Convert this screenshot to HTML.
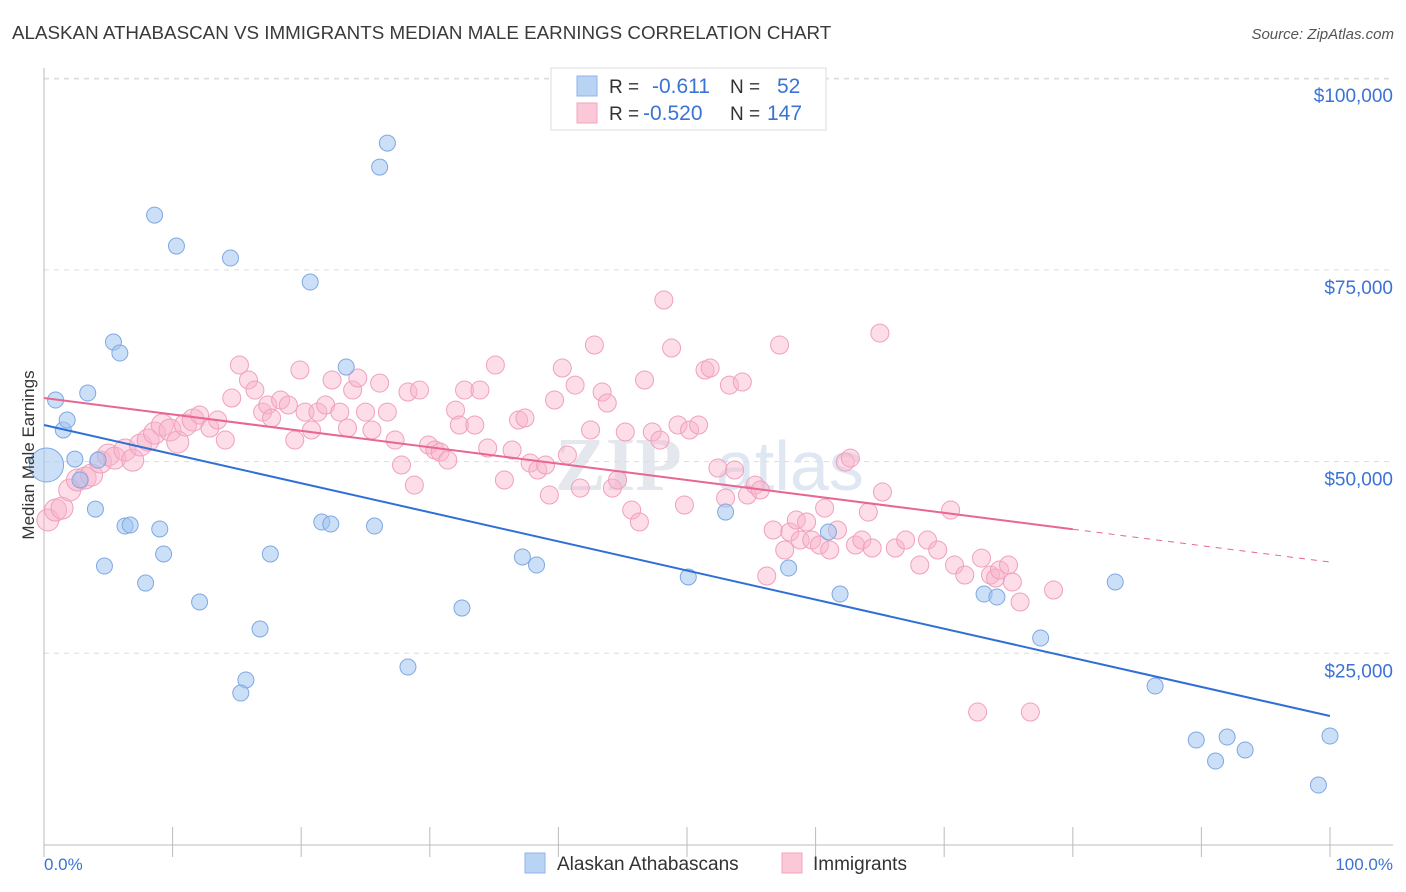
<!DOCTYPE html>
<html><head><meta charset="utf-8">
<style>
body{margin:0;background:#fff;font-family:"Liberation Sans",sans-serif;}
svg{display:block}
</style></head>
<body>
<svg id="chart" width="1406" height="892" viewBox="0 0 1406 892">
<text x="12" y="39" font-size="18.8" fill="#3a3a3a">ALASKAN ATHABASCAN VS IMMIGRANTS MEDIAN MALE EARNINGS CORRELATION CHART</text>
<text x="1394" y="39" font-size="15" fill="#555" font-style="italic" text-anchor="end">Source: ZipAtlas.com</text>
<text x="555" y="490" font-size="76" fill="#e4e8ee" font-family="Liberation Serif,serif" font-weight="bold">ZIP</text>
<text x="716" y="490" font-size="70" fill="#dfe7f3">atlas</text>
<g id="grid"></g>
<g id="axes"></g>
<g id="pink"></g>
<g id="blue"></g>
<g id="trend"></g>
<text transform="translate(34,455) rotate(-90)" font-size="17" fill="#333" text-anchor="middle">Median Male Earnings</text>
<text x="44" y="870" font-size="17" fill="#3b73d4">0.0%</text>
<text x="1393" y="870" font-size="17" fill="#3b73d4" text-anchor="end">100.0%</text>
<g>
<rect x="551" y="68" width="275" height="62" fill="#fff" stroke="#ddd"/>
<rect x="577" y="76" width="20" height="20" fill="#b9d3f5" stroke="#8fb3e8"/>
<rect x="577" y="103" width="20" height="20" fill="#fbc8d8" stroke="#f0a6bf"/>
<text x="609" y="93" font-size="19" fill="#333">R = </text><text x="652" y="93" font-size="21" fill="#3b73d4">-0.611</text>
<text x="730" y="93" font-size="19" fill="#333">N = </text><text x="777" y="93" font-size="21" fill="#3b73d4">52</text>
<text x="609" y="120" font-size="19" fill="#333">R = </text><text x="643" y="120" font-size="21" fill="#3b73d4">-0.520</text>
<text x="730" y="120" font-size="19" fill="#333">N = </text><text x="767" y="120" font-size="21" fill="#3b73d4">147</text>
</g>
<g>
<rect x="525" y="853" width="20" height="20" fill="#b9d3f5" stroke="#8fb3e8"/>
<text x="557" y="870" font-size="19" fill="#333">Alaskan Athabascans</text>
<rect x="782" y="853" width="20" height="20" fill="#fbc8d8" stroke="#f0a6bf"/>
<text x="813" y="870" font-size="19" fill="#333">Immigrants</text>
</g>
</svg>
<script>
const yTicks=[25000,50000,75000,100000];
const yTickLabels=["$25,000","$50,000","$75,000","$100,000"];
const xTicks=[0,10,20,30,40,50,60,70,80,90,100];
const bluePct=[0.2,0.9,1.5,1.8,2.4,2.8,3.4,4.0,4.2,4.7,5.4,5.9,6.3,6.7,7.9,8.6,9.0,9.3,10.3,12.1,14.5,15.7,15.3,16.8,17.6,20.7,21.6,22.3,23.5,25.7,26.1,26.7,28.3,32.5,37.2,38.3,50.1,53.0,57.9,61.0,61.9,73.1,74.1,77.5,83.3,86.4,89.6,91.1,92.0,93.4,99.1,100];
const blueVal=[49550,58030,54120,55420,50330,47600,58940,43810,50200,36380,65590,64160,41600,41730,34160,82150,41210,37950,78110,31690,76550,21520,19820,28170,37950,73420,42120,41860,62330,41600,88410,91540,23210,30900,37560,36510,34950,43420,36120,40820,32730,32730,32340,26990,34300,20730,13690,10950,14080,12390,7820,14210];
const pinkPct=[0.3,0.9,1.4,2.0,2.6,3.2,3.7,4.4,5.0,5.5,6.3,6.9,7.5,8.1,8.6,9.2,9.8,10.4,11.0,11.6,12.1,12.9,13.5,14.1,14.6,15.2,15.9,16.4,17.0,17.4,17.7,18.4,19.0,19.5,19.9,20.3,20.8,21.3,21.9,22.4,23.0,23.6,24.0,24.4,25.0,25.5,26.1,26.7,27.3,27.8,28.3,28.8,29.2,29.9,30.4,30.8,31.4,32.0,32.3,32.7,33.5,33.9,34.5,35.1,35.8,36.4,36.9,37.4,37.8,38.4,39.0,39.3,39.7,40.3,40.7,41.3,41.7,42.5,42.8,43.4,43.8,44.2,44.6,45.2,45.7,46.3,46.7,47.3,47.9,48.2,48.8,49.3,49.8,50.2,50.9,51.4,51.8,52.4,53.0,53.3,53.7,54.3,54.7,55.3,55.7,56.2,56.7,57.2,57.6,58.0,58.5,58.8,59.3,59.7,60.3,60.7,61.1,61.7,62.3,62.7,63.1,63.6,64.1,64.4,65.0,65.2,66.2,67.0,68.1,68.7,69.5,70.5,70.8,71.6,72.6,72.9,73.6,74.0,74.3,75.0,75.3,75.9,76.7,78.5];
const pinkVal=[42380,43680,43940,46290,47600,47860,48250,49940,50860,50460,51510,50200,52160,52810,53720,54770,54120,52550,54770,55420,56070,54380,55420,52810,58290,62590,60640,59330,56460,57380,55680,58030,57380,52810,61940,56460,54120,56460,57380,60640,56460,54380,59330,60900,56460,54120,60240,56460,52810,49550,59070,46940,59330,52160,51510,51250,50200,56720,54770,59330,54770,59330,51770,62590,47600,51510,55420,55680,49810,48900,49550,45640,58030,62200,50860,59980,46550,54120,65200,59070,57640,46550,47600,53860,43680,42120,60640,53860,52810,71070,64810,54770,44340,54120,54770,61940,62200,49160,45250,59980,48900,60380,45640,46940,46290,35080,41080,65200,38470,40820,42380,39770,42120,39770,39120,43940,38470,41080,49940,50460,39120,39770,43420,38730,66760,46030,38730,39770,36510,39770,38470,43680,36510,35210,17340,37420,35210,34820,35860,36510,34300,31690,17340,33250];
const blueTrend=[54770,16820];
const pinkTrend=[58290,36900];
const pinkSolidEnd=80;

const X0=44,X1=1330,Y0=845,PX=191.7/25000;
const sx=p=>X0+(X1-X0)*p/100;
const sy=v=>Y0-v*PX;
const NS="http://www.w3.org/2000/svg";
function mk(tag,attrs,parent){const e=document.createElementNS(NS,tag);for(const k in attrs)e.setAttribute(k,attrs[k]);parent.appendChild(e);return e;}

const grid=document.getElementById('grid');
yTicks.forEach((t,i)=>{
  const l=mk('line',{x1:X0,x2:1393,y1:sy(t),y2:sy(t),stroke:'#ddd','stroke-dasharray':'5,5'},grid);
  
  
  const tx=mk('text',{x:1393,y:sy(t)+24,'font-size':19,fill:'#3b73d4','text-anchor':'end'},grid);
  tx.textContent=yTickLabels[i];
  
  
});
const topGrid=mk('line',{x1:X0,x2:1393,y1:79,y2:79,stroke:'#ddd','stroke-dasharray':'5,5'},grid);


const axes=document.getElementById('axes');
const xa=mk('line',{x1:X0,x2:1393,y1:Y0,y2:Y0,stroke:'#bbb'},axes);


const ya=mk('line',{x1:X0,x2:X0,y1:68,y2:Y0,stroke:'#bbb'},axes);


xTicks.forEach(t=>{
  const k=mk('line',{x1:sx(t),x2:sx(t),y1:Y0-18,y2:Y0+12,stroke:'#bbb'},axes);
  
  
});

const pink=document.getElementById('pink');
pinkPct.forEach((p,i)=>{
  const c=mk('circle',{cx:sx(p),cy:sy(pinkVal[i]),r:p<12?11:9,fill:'rgba(248,180,204,0.45)',stroke:'#f0a0bc','stroke-width':1},pink);
  
  
});
const blue=document.getElementById('blue');
bluePct.forEach((p,i)=>{
  const c=mk('circle',{cx:sx(p),cy:sy(blueVal[i]),r:i===0?17:8,fill:'rgba(160,196,240,0.55)',stroke:'#7fa8e3','stroke-width':1},blue);
  
  
});
const trend=document.getElementById('trend');
const bl=mk('line',{x1:sx(0),y1:sy(blueTrend[0]),x2:sx(100),y2:sy(blueTrend[1]),stroke:'#2f6fd6','stroke-width':2},trend);


const pv=p=>pinkTrend[0]+(pinkTrend[1]-pinkTrend[0])*p/100;
const pl=mk('line',{x1:sx(0),y1:sy(pv(0)),x2:sx(pinkSolidEnd),y2:sy(pv(pinkSolidEnd)),stroke:'#e8668f','stroke-width':2},trend);


const pd=mk('line',{x1:sx(pinkSolidEnd),y1:sy(pv(pinkSolidEnd)),x2:sx(100),y2:sy(pv(100)),stroke:'#e8668f','stroke-width':1,'stroke-dasharray':'6,6'},trend);


</script>
</body></html>
